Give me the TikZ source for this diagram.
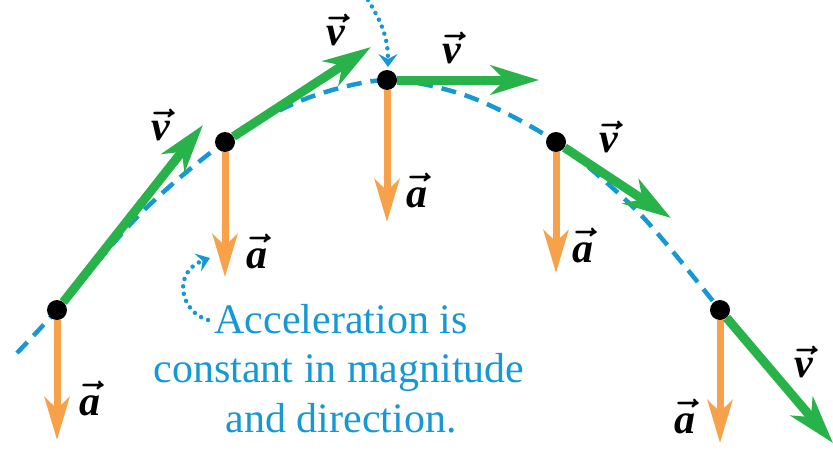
\RequirePackage{fix-cm}
\documentclass[tikz,border=0pt]{standalone}
\usepackage{amsmath}
\usepackage{fontspec}
\setmainfont{Liberation Serif}
\usetikzlibrary{arrows.meta}
\definecolor{vgreen}{RGB}{39,178,74}
\definecolor{aorange}{RGB}{247,162,75}
\definecolor{pathblue}{RGB}{22,152,212}
\newcommand{\vecv}{{\boldmath$\vec{\textbf{\textit{v}}}$}}
\newcommand{\veca}{{\boldmath$\vec{\raisebox{0pt}[\dimexpr\height+2pt\relax]{\textbf{\textit{a}}}}$}}
\begin{document}
\begin{tikzpicture}[x=1pt,y=-1pt,
 dot/.style={circle,fill=black,inner sep=0pt,minimum size=20pt},
 vel/.style={draw=vgreen,line width=9pt,-{Stealth[length=48pt,width=29pt,inset=14pt]}},
 acc/.style={draw=aorange,line width=7pt,-{Stealth[length=43pt,width=25pt,inset=12pt]}},
 traj/.style={draw=pathblue,line width=4.5pt,dash pattern=on 15pt off 9pt},
 pointer/.style={draw=pathblue,line width=4.5pt,line cap=round,dash pattern=on 0pt off 7.5pt,-{Stealth[length=13pt,width=19pt,inset=5pt]}},
 lbl/.style={anchor=base,inner sep=0pt,font=\fontsize{42}{44}\selectfont},
 note/.style={anchor=base,inner sep=0pt,text=pathblue,font=\fontsize{42}{50}\selectfont}]
\useasboundingbox (0,0) rectangle (833,453);
% trajectory
\draw[traj] plot[smooth] coordinates {(17,353) (57,310) (140,214) (225,142) (305,99) (387,80) (470,97) (556,142) (640,214) (720,310)};
% points
\node[dot] (p1) at (57,310) {};
\node[dot] (p2) at (225,142) {};
\node[dot] (p3) at (387,80) {};
\node[dot] (p4) at (556,142) {};
\node[dot] (p5) at (720,310) {};
% arrow tips
\coordinate (v1) at (203,125);
\coordinate (v2) at (371,47);
\coordinate (v3) at (539,80);
\coordinate (v4) at (671,218);
\coordinate (v5) at (833,443);
\coordinate (a1) at (57,440);
\coordinate (a2) at (225,277);
\coordinate (a3) at (387,222);
\coordinate (a4) at (556,273);
\coordinate (a5) at (720,443);
% acceleration
\draw[acc] (p1) -- (a1);
\draw[acc] (p2) -- (a2);
\draw[acc] (p3) -- (a3);
\draw[acc] (p4) -- (a4);
\draw[acc] (p5) -- (a5);
% velocity
\draw[vel] (p1) -- (v1);
\draw[vel] (p2) -- (v2);
\draw[vel] (p3) -- (v3);
\draw[vel] (p4) -- (v4);
\draw[vel] (p5) -- (v5);
% labels
\node[lbl] (lv1) at (161,140) {\vecv};
\node[lbl] (lv2) at (336,45) {\vecv};
\node[lbl] (lv3) at (452,63) {\vecv};
\node[lbl] (lv4) at (609,152) {\vecv};
\node[lbl] (lv5) at (804,377) {\vecv};
\node[lbl] (la1) at (90,415) {\veca};
\node[lbl] (la2) at (257,268) {\veca};
\node[lbl] (la3) at (417,207) {\veca};
\node[lbl] (la4) at (583,262) {\veca};
\node[lbl] (la5) at (685,433) {\veca};
% note
\node[note] (n1) at (341,333) {Acceleration is};
\node[note] (n2) at (339,382) {constant in magnitude};
\node[note] (n3) at (341,432) {and direction.};
% pointers
\coordinate (top) at (368,0);
\coordinate (ptip) at (388,67);
\draw[pointer] (top) .. controls (380,20) and (388,35) .. (ptip);
\coordinate (aptr) at (210,258);
\coordinate (nstart) at (208,320);
\draw[pointer] (nstart) .. controls (180,312) and (172,272) .. (aptr);
\end{tikzpicture}
\end{document}
